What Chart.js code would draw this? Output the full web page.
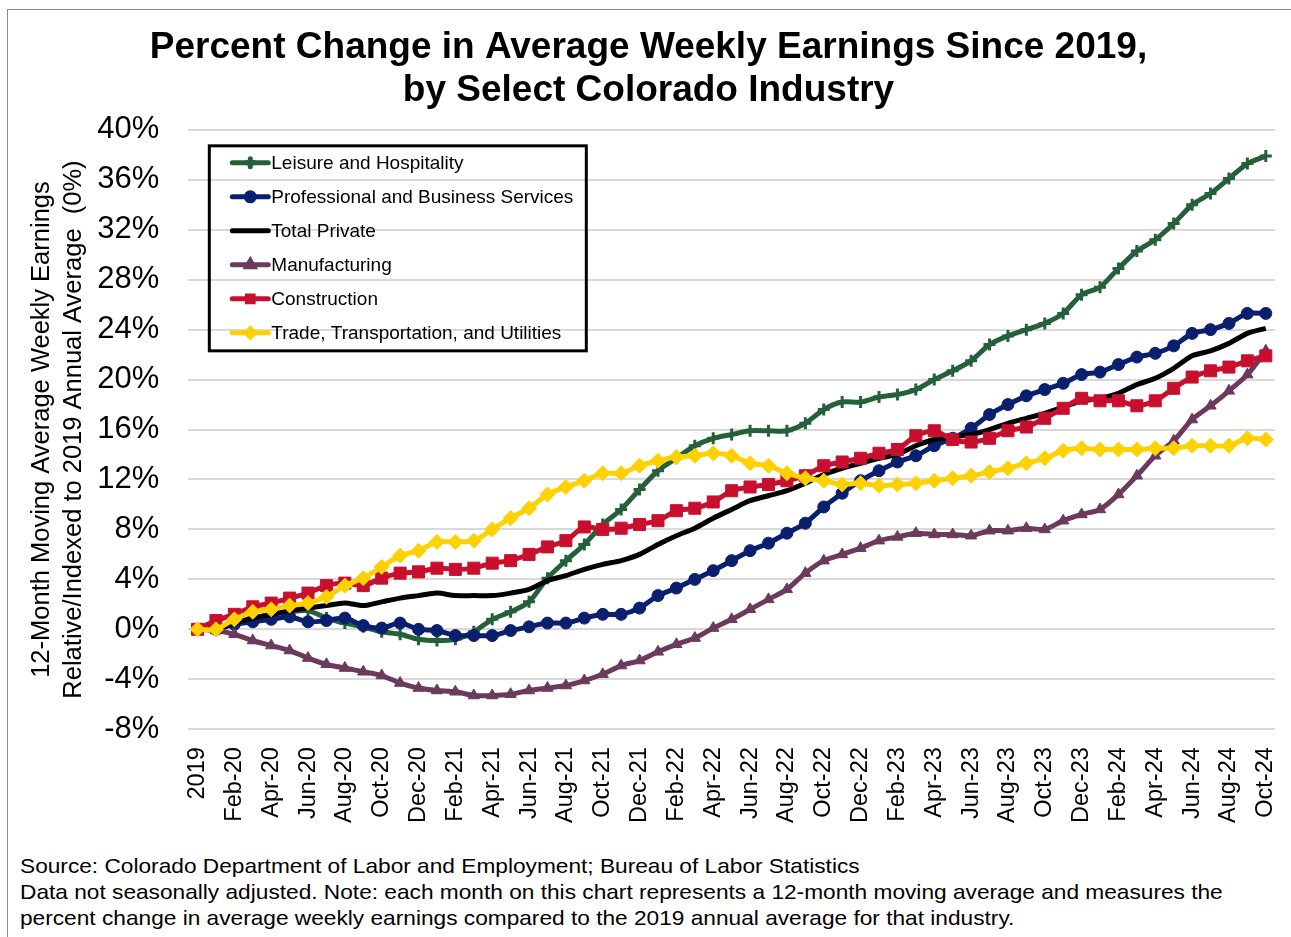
<!DOCTYPE html>
<html>
<head>
<meta charset="UTF-8">
<title>Percent Change in Average Weekly Earnings Since 2019</title>
<script src="https://cdn.jsdelivr.net/npm/chart.js"></script>
<style>
    body {
        margin: 0;
        padding: 0;
        background-color: #FFFFFF;
        font-family: "Liberation Sans", Arial, sans-serif;
    }
    .wrap {
        position: relative;
        width: 1291px;
        height: 937px;
        overflow: hidden;
    }
    .frame {
        position: absolute;
        left: 7px;
        top: 9px;
        right: 0;
        bottom: 0;
        border-left: 1px solid #8C8C8C;
        border-top: 1px solid #8C8C8C;
    }
    #chart {
        position: absolute;
        left: 0;
        top: 0;
    }
    .note {
        position: absolute;
        left: 20px;
        top: 853px;
        font-size: 21px;
        line-height: 26px;
        color: #000000;
        white-space: nowrap;
        transform: scaleX(1.08);
        transform-origin: left top;
    }
</style>
</head>
<body>
<div class="wrap">
    <div class="frame"></div>
    <canvas id="chart" width="1291" height="850"></canvas>
    <div class="note">
        Source: Colorado Department of Labor and Employment; Bureau of Labor Statistics<br>
        Data not seasonally adjusted. Note: each month on this chart represents a 12-month moving average and measures the<br>
        percent change in average weekly earnings compared to the 2019 annual average for that industry.
    </div>
</div>

<script>
    // months: the 2019 base, then Jan-20 .. Oct-24
    const months = ['2019',
        'Jan-20', 'Feb-20', 'Mar-20', 'Apr-20', 'May-20', 'Jun-20', 'Jul-20', 'Aug-20', 'Sep-20', 'Oct-20', 'Nov-20', 'Dec-20',
        'Jan-21', 'Feb-21', 'Mar-21', 'Apr-21', 'May-21', 'Jun-21', 'Jul-21', 'Aug-21', 'Sep-21', 'Oct-21', 'Nov-21', 'Dec-21',
        'Jan-22', 'Feb-22', 'Mar-22', 'Apr-22', 'May-22', 'Jun-22', 'Jul-22', 'Aug-22', 'Sep-22', 'Oct-22', 'Nov-22', 'Dec-22',
        'Jan-23', 'Feb-23', 'Mar-23', 'Apr-23', 'May-23', 'Jun-23', 'Jul-23', 'Aug-23', 'Sep-23', 'Oct-23', 'Nov-23', 'Dec-23',
        'Jan-24', 'Feb-24', 'Mar-24', 'Apr-24', 'May-24', 'Jun-24', 'Jul-24', 'Aug-24', 'Sep-24', 'Oct-24'];

    // percent change vs 2019 average
    const leisure = [0, 0, 0.5, 0.9, 1.2, 1.4, 1.5, 0.9, 0.5, 0.2, -0.2, -0.4, -0.8, -0.9, -0.8, -0.2, 0.8, 1.4, 2.2,
        4.1, 5.5, 6.8, 8.4, 9.6, 11.2, 12.7, 13.7, 14.7, 15.3, 15.6, 15.9, 15.9, 15.9, 16.5, 17.6, 18.2, 18.2, 18.6, 18.8,
        19.2, 20.0, 20.7, 21.5, 22.8, 23.5, 24.0, 24.5, 25.3, 26.8, 27.4, 28.9, 30.3, 31.2, 32.5, 34.0, 34.9, 36.1, 37.3, 37.9];
    const professional = [0, 0, 0.4, 0.6, 0.8, 1.0, 0.6, 0.7, 0.9, 0.3, 0.1, 0.5, 0.0, -0.1, -0.5, -0.5, -0.5, -0.1, 0.2,
        0.5, 0.5, 0.9, 1.2, 1.2, 1.7, 2.7, 3.3, 4.0, 4.7, 5.5, 6.3, 6.9, 7.7, 8.5, 9.8, 10.9, 11.9, 12.7, 13.4,
        13.9, 14.7, 15.3, 16.1, 17.2, 18.0, 18.7, 19.2, 19.7, 20.4, 20.6, 21.2, 21.8, 22.1, 22.7, 23.7, 24.0, 24.5, 25.3, 25.3];
    const totalPrivate = [0, 0.1, 0.5, 0.9, 1.2, 1.5, 1.7, 1.9, 2.1, 1.9, 2.2, 2.5, 2.7, 2.9, 2.7, 2.7, 2.7, 2.9, 3.2,
        3.9, 4.3, 4.8, 5.2, 5.5, 6.0, 6.8, 7.5, 8.1, 8.9, 9.6, 10.3, 10.7, 11.1, 11.7, 12.4, 12.9, 13.3, 13.7, 14.0,
        14.7, 15.2, 15.4, 15.6, 16.0, 16.5, 16.9, 17.3, 17.8, 18.3, 18.5, 18.9, 19.6, 20.1, 20.9, 21.9, 22.3, 22.9, 23.7, 24.1];
    const manufacturing = [0, -0.1, -0.4, -0.9, -1.3, -1.7, -2.3, -2.8, -3.1, -3.4, -3.7, -4.3, -4.7, -4.9, -5.0, -5.3, -5.3, -5.2, -4.9,
        -4.7, -4.5, -4.1, -3.6, -2.9, -2.5, -1.8, -1.2, -0.7, 0.1, 0.8, 1.6, 2.4, 3.2, 4.5, 5.5, 6.0, 6.5, 7.1, 7.4,
        7.7, 7.6, 7.6, 7.5, 7.9, 7.9, 8.1, 8.0, 8.7, 9.2, 9.6, 10.8, 12.3, 13.9, 15.1, 16.8, 17.9, 19.1, 20.4, 22.3];
    const construction = [0, 0.7, 1.2, 1.8, 2.1, 2.5, 2.9, 3.5, 3.7, 3.5, 4.1, 4.5, 4.6, 4.9, 4.8, 4.9, 5.3, 5.5, 6.0,
        6.6, 7.1, 8.2, 8.0, 8.1, 8.4, 8.7, 9.5, 9.7, 10.2, 11.1, 11.4, 11.6, 11.9, 12.3, 13.1, 13.4, 13.7, 14.1, 14.4,
        15.5, 15.9, 15.2, 15.0, 15.3, 15.9, 16.2, 16.9, 17.7, 18.5, 18.3, 18.3, 17.9, 18.3, 19.3, 20.2, 20.7, 21.0, 21.5, 21.9];
    const trade = [0, 0, 0.8, 1.4, 1.6, 1.9, 2.1, 2.6, 3.5, 4.1, 5.0, 5.9, 6.3, 7.0, 7.0, 7.1, 8.0, 8.9, 9.7,
        10.8, 11.4, 11.9, 12.5, 12.5, 13.1, 13.5, 13.8, 13.9, 14.1, 13.9, 13.3, 13.1, 12.5, 12.1, 11.9, 11.6, 11.7, 11.5, 11.6,
        11.7, 11.9, 12.1, 12.3, 12.6, 12.9, 13.3, 13.7, 14.3, 14.5, 14.4, 14.4, 14.4, 14.5, 14.5, 14.7, 14.7, 14.7, 15.3, 15.2];

    const seriesNames = ['Leisure and Hospitality', 'Professional and Business Services', 'Total Private',
        'Manufacturing', 'Construction', 'Trade, Transportation, and Utilities'];
    const seriesValues = [leisure, professional, totalPrivate, manufacturing, construction, trade];

    const yTicks = { min: -8, max: 40, step: 4 };

    const FONT = '"Liberation Sans", Arial, sans-serif';

    const looks = [
        { color: '#24603A', point: 'cross', radius: 6, border: 3 },
        { color: '#0B1F6F', point: 'circle', radius: 6, border: 1 },
        { color: '#000000', point: false, radius: 0, border: 0 },
        { color: '#6B3A5D', point: 'triangle', radius: 6.5, border: 1 },
        { color: '#C8102E', point: 'rect', radius: 8.5, border: 1 },
        { color: '#FFD100', point: 'rectRot', radius: 7.5, border: 1 }
    ];

    // legend drawn inside the plot, Excel style
    const boxLegend = {
        id: 'boxLegend',
        afterDraw(chart) {
            const ctx = chart.ctx;
            const area = chart.chartArea;
            const x0 = area.left + 21, y0 = area.top + 16;
            ctx.save();
            ctx.strokeStyle = '#000000';
            ctx.lineWidth = 3;
            ctx.strokeRect(x0, y0, 377, 205);
            ctx.font = '19px ' + FONT;
            ctx.textBaseline = 'middle';
            chart.data.datasets.forEach((ds, i) => {
                const y = y0 + 17 + i * 34;
                ctx.strokeStyle = ds.borderColor;
                ctx.fillStyle = ds.borderColor;
                ctx.lineWidth = 5;
                ctx.lineCap = 'round';
                ctx.beginPath();
                ctx.moveTo(x0 + 23, y);
                ctx.lineTo(x0 + 59, y);
                ctx.stroke();
                if (ds.pointStyle) {
                    Chart.helpers.drawPoint(ctx, {
                        pointStyle: ds.pointStyle,
                        radius: 4,
                        borderWidth: ds.pointBorderWidth > 1 ? 2 : 1,
                        rotation: 0
                    }, x0 + 41, y);
                }
                ctx.fillStyle = '#000000';
                ctx.fillText(ds.label, x0 + 62, y + 1);
            });
            ctx.restore();
        }
    };

    const datasets = seriesNames.map((name, i) => ({
        label: name,
        data: seriesValues[i],
        borderColor: looks[i].color,
        backgroundColor: looks[i].color,
        pointBackgroundColor: looks[i].color,
        pointBorderColor: looks[i].color,
        pointStyle: looks[i].point,
        pointRadius: looks[i].radius,
        pointBorderWidth: looks[i].border,
        borderWidth: 5,
        tension: 0.25,
        order: seriesNames.length - i
    }));

    new Chart(document.getElementById('chart').getContext('2d'), {
        type: 'line',
        data: { labels: months, datasets: datasets },
        options: {
            responsive: false,
            animation: false,
            layout: { padding: { left: 22, right: 16, top: 0, bottom: 17 } },
            plugins: {
                legend: { display: false },
                tooltip: { enabled: false },
                title: {
                    display: true,
                    text: ['Percent Change in Average Weekly Earnings Since 2019,', 'by Select Colorado Industry'],
                    color: '#000000',
                    font: { family: FONT, size: 37, weight: 'bold', lineHeight: 1.16 },
                    padding: { top: 26, bottom: 18 }
                }
            },
            scales: {
                x: {
                    offset: true,
                    grid: { display: false },
                    border: { display: false },
                    afterFit: function (scale) {
                        // labels fit inside the offset, no extra side padding
                        scale.paddingLeft = 0;
                        scale.paddingRight = 0;
                    },
                    ticks: {
                        autoSkip: false,
                        maxRotation: 90,
                        minRotation: 90,
                        padding: 10,
                        color: '#000000',
                        font: { family: FONT, size: 23.5 },
                        callback: function (val, idx) {
                            return idx % 2 === 0 ? this.getLabelForValue(val) : '';
                        }
                    }
                },
                y: {
                    min: yTicks.min,
                    max: yTicks.max,
                    grid: { color: '#D9D9D9', lineWidth: 2, drawTicks: false },
                    border: { display: false },
                    ticks: {
                        stepSize: yTicks.step,
                        padding: 29,
                        color: '#000000',
                        font: { family: FONT, size: 31 },
                        callback: v => v + '%'
                    },
                    title: {
                        display: true,
                        text: ['12-Month Moving Average Weekly Earnings', 'Relative/Indexed to 2019 Annual Average  (0%)'],
                        color: '#000000',
                        font: { family: FONT, size: 25.5, lineHeight: 1.26 },
                        padding: { top: 4, bottom: -22 }
                    }
                }
            }
        },
        plugins: [boxLegend]
    });
</script>
</body>
</html>
